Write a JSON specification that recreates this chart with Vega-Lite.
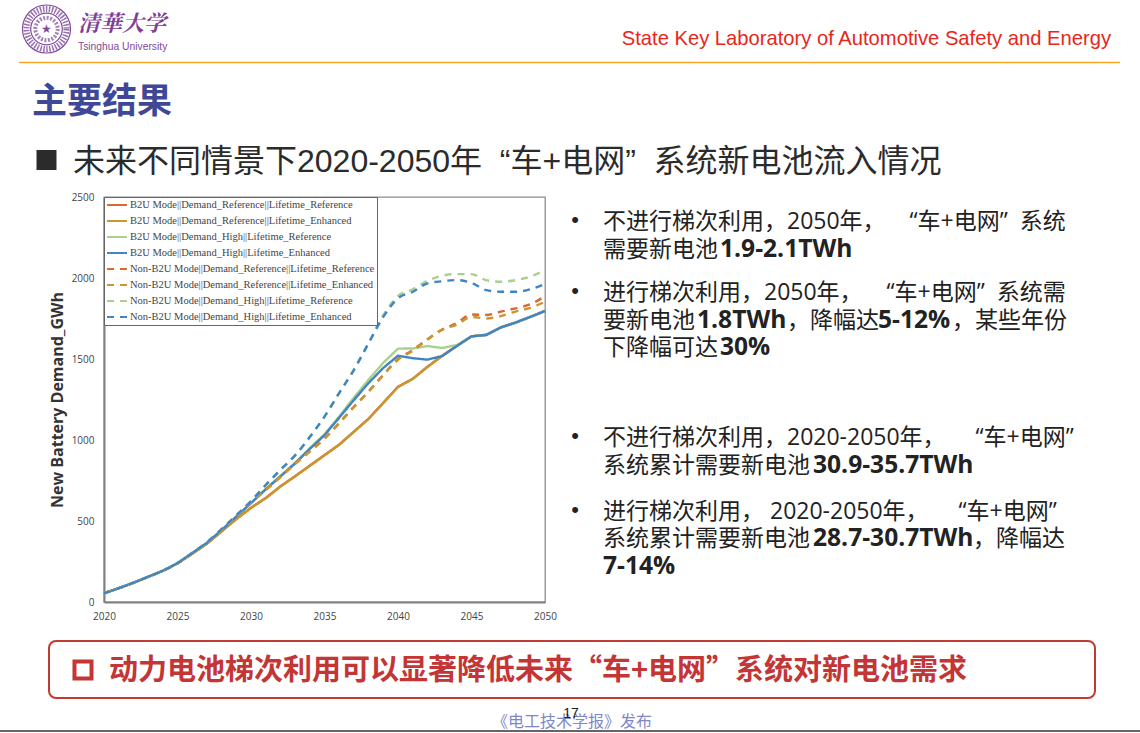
{
"$schema":"https://vega.github.io/schema/vega-lite/v6.json",
"width":441,"height":405,
"autosize":{"type":"none"},
"padding":{"left":104,"top":197,"right":595,"bottom":131},
"background":"white",
"config":{"view":{"stroke":"#8c8c8c","strokeWidth":1.3}},
"datasets":{
"names":[
{"s":"a","series":"B2U Mode||Demand_Reference||Lifetime_Reference"},
{"s":"b","series":"B2U Mode||Demand_Reference||Lifetime_Enhanced"},
{"s":"c","series":"B2U Mode||Demand_High||Lifetime_Reference"},
{"s":"d","series":"B2U Mode||Demand_High||Lifetime_Enhanced"},
{"s":"e","series":"Non-B2U Mode||Demand_Reference||Lifetime_Reference"},
{"s":"f","series":"Non-B2U Mode||Demand_Reference||Lifetime_Enhanced"},
{"s":"g","series":"Non-B2U Mode||Demand_High||Lifetime_Reference"},
{"s":"h","series":"Non-B2U Mode||Demand_High||Lifetime_Enhanced"}
],
"demand":[
{"s":"a","year":2020,"gwh":54},{"s":"a","year":2021,"gwh":85},{"s":"a","year":2022,"gwh":118},{"s":"a","year":2023,"gwh":155},{"s":"a","year":2024,"gwh":192},{"s":"a","year":2025,"gwh":238},{"s":"a","year":2026,"gwh":298},{"s":"a","year":2027,"gwh":360},{"s":"a","year":2028,"gwh":436},{"s":"a","year":2029,"gwh":512},{"s":"a","year":2030,"gwh":582},{"s":"a","year":2031,"gwh":642},{"s":"a","year":2032,"gwh":714},{"s":"a","year":2033,"gwh":777},{"s":"a","year":2034,"gwh":842},{"s":"a","year":2035,"gwh":907},{"s":"a","year":2036,"gwh":972},{"s":"a","year":2037,"gwh":1052},{"s":"a","year":2038,"gwh":1132},{"s":"a","year":2039,"gwh":1230},{"s":"a","year":2040,"gwh":1329},{"s":"a","year":2041,"gwh":1378},{"s":"a","year":2042,"gwh":1452},{"s":"a","year":2043,"gwh":1520},{"s":"a","year":2044,"gwh":1582},{"s":"a","year":2045,"gwh":1640},{"s":"a","year":2046,"gwh":1650},{"s":"a","year":2047,"gwh":1695},{"s":"a","year":2048,"gwh":1725},{"s":"a","year":2049,"gwh":1760},{"s":"a","year":2050,"gwh":1798},
{"s":"b","year":2020,"gwh":54},{"s":"b","year":2021,"gwh":85},{"s":"b","year":2022,"gwh":118},{"s":"b","year":2023,"gwh":155},{"s":"b","year":2024,"gwh":192},{"s":"b","year":2025,"gwh":238},{"s":"b","year":2026,"gwh":298},{"s":"b","year":2027,"gwh":360},{"s":"b","year":2028,"gwh":436},{"s":"b","year":2029,"gwh":512},{"s":"b","year":2030,"gwh":580},{"s":"b","year":2031,"gwh":640},{"s":"b","year":2032,"gwh":712},{"s":"b","year":2033,"gwh":775},{"s":"b","year":2034,"gwh":840},{"s":"b","year":2035,"gwh":905},{"s":"b","year":2036,"gwh":970},{"s":"b","year":2037,"gwh":1050},{"s":"b","year":2038,"gwh":1130},{"s":"b","year":2039,"gwh":1228},{"s":"b","year":2040,"gwh":1327},{"s":"b","year":2041,"gwh":1376},{"s":"b","year":2042,"gwh":1450},{"s":"b","year":2043,"gwh":1518},{"s":"b","year":2044,"gwh":1580},{"s":"b","year":2045,"gwh":1640},{"s":"b","year":2046,"gwh":1648},{"s":"b","year":2047,"gwh":1695},{"s":"b","year":2048,"gwh":1725},{"s":"b","year":2049,"gwh":1760},{"s":"b","year":2050,"gwh":1796},
{"s":"c","year":2020,"gwh":54},{"s":"c","year":2021,"gwh":85},{"s":"c","year":2022,"gwh":119},{"s":"c","year":2023,"gwh":156},{"s":"c","year":2024,"gwh":193},{"s":"c","year":2025,"gwh":240},{"s":"c","year":2026,"gwh":302},{"s":"c","year":2027,"gwh":365},{"s":"c","year":2028,"gwh":444},{"s":"c","year":2029,"gwh":527},{"s":"c","year":2030,"gwh":612},{"s":"c","year":2031,"gwh":698},{"s":"c","year":2032,"gwh":778},{"s":"c","year":2033,"gwh":860},{"s":"c","year":2034,"gwh":950},{"s":"c","year":2035,"gwh":1035},{"s":"c","year":2036,"gwh":1145},{"s":"c","year":2037,"gwh":1262},{"s":"c","year":2038,"gwh":1372},{"s":"c","year":2039,"gwh":1477},{"s":"c","year":2040,"gwh":1564},{"s":"c","year":2041,"gwh":1565},{"s":"c","year":2042,"gwh":1580},{"s":"c","year":2043,"gwh":1568},{"s":"c","year":2044,"gwh":1586},{"s":"c","year":2045,"gwh":1640},{"s":"c","year":2046,"gwh":1648},{"s":"c","year":2047,"gwh":1695},{"s":"c","year":2048,"gwh":1725},{"s":"c","year":2049,"gwh":1760},{"s":"c","year":2050,"gwh":1796},
{"s":"d","year":2020,"gwh":54},{"s":"d","year":2021,"gwh":85},{"s":"d","year":2022,"gwh":119},{"s":"d","year":2023,"gwh":156},{"s":"d","year":2024,"gwh":193},{"s":"d","year":2025,"gwh":240},{"s":"d","year":2026,"gwh":302},{"s":"d","year":2027,"gwh":365},{"s":"d","year":2028,"gwh":444},{"s":"d","year":2029,"gwh":527},{"s":"d","year":2030,"gwh":610},{"s":"d","year":2031,"gwh":695},{"s":"d","year":2032,"gwh":775},{"s":"d","year":2033,"gwh":855},{"s":"d","year":2034,"gwh":945},{"s":"d","year":2035,"gwh":1030},{"s":"d","year":2036,"gwh":1138},{"s":"d","year":2037,"gwh":1247},{"s":"d","year":2038,"gwh":1352},{"s":"d","year":2039,"gwh":1445},{"s":"d","year":2040,"gwh":1520},{"s":"d","year":2041,"gwh":1505},{"s":"d","year":2042,"gwh":1496},{"s":"d","year":2043,"gwh":1518},{"s":"d","year":2044,"gwh":1580},{"s":"d","year":2045,"gwh":1640},{"s":"d","year":2046,"gwh":1648},{"s":"d","year":2047,"gwh":1695},{"s":"d","year":2048,"gwh":1725},{"s":"d","year":2049,"gwh":1760},{"s":"d","year":2050,"gwh":1796},
{"s":"e","year":2020,"gwh":54},{"s":"e","year":2021,"gwh":85},{"s":"e","year":2022,"gwh":118},{"s":"e","year":2023,"gwh":155},{"s":"e","year":2024,"gwh":192},{"s":"e","year":2025,"gwh":238},{"s":"e","year":2026,"gwh":299},{"s":"e","year":2027,"gwh":362},{"s":"e","year":2028,"gwh":440},{"s":"e","year":2029,"gwh":525},{"s":"e","year":2030,"gwh":618},{"s":"e","year":2031,"gwh":692},{"s":"e","year":2032,"gwh":772},{"s":"e","year":2033,"gwh":855},{"s":"e","year":2034,"gwh":930},{"s":"e","year":2035,"gwh":1010},{"s":"e","year":2036,"gwh":1105},{"s":"e","year":2037,"gwh":1205},{"s":"e","year":2038,"gwh":1300},{"s":"e","year":2039,"gwh":1402},{"s":"e","year":2040,"gwh":1500},{"s":"e","year":2041,"gwh":1555},{"s":"e","year":2042,"gwh":1622},{"s":"e","year":2043,"gwh":1682},{"s":"e","year":2044,"gwh":1722},{"s":"e","year":2045,"gwh":1775},{"s":"e","year":2046,"gwh":1772},{"s":"e","year":2047,"gwh":1792},{"s":"e","year":2048,"gwh":1813},{"s":"e","year":2049,"gwh":1838},{"s":"e","year":2050,"gwh":1888},
{"s":"f","year":2020,"gwh":54},{"s":"f","year":2021,"gwh":85},{"s":"f","year":2022,"gwh":118},{"s":"f","year":2023,"gwh":155},{"s":"f","year":2024,"gwh":192},{"s":"f","year":2025,"gwh":238},{"s":"f","year":2026,"gwh":299},{"s":"f","year":2027,"gwh":362},{"s":"f","year":2028,"gwh":440},{"s":"f","year":2029,"gwh":525},{"s":"f","year":2030,"gwh":615},{"s":"f","year":2031,"gwh":690},{"s":"f","year":2032,"gwh":770},{"s":"f","year":2033,"gwh":852},{"s":"f","year":2034,"gwh":928},{"s":"f","year":2035,"gwh":1008},{"s":"f","year":2036,"gwh":1103},{"s":"f","year":2037,"gwh":1203},{"s":"f","year":2038,"gwh":1298},{"s":"f","year":2039,"gwh":1400},{"s":"f","year":2040,"gwh":1495},{"s":"f","year":2041,"gwh":1550},{"s":"f","year":2042,"gwh":1620},{"s":"f","year":2043,"gwh":1680},{"s":"f","year":2044,"gwh":1712},{"s":"f","year":2045,"gwh":1760},{"s":"f","year":2046,"gwh":1750},{"s":"f","year":2047,"gwh":1765},{"s":"f","year":2048,"gwh":1793},{"s":"f","year":2049,"gwh":1816},{"s":"f","year":2050,"gwh":1853},
{"s":"g","year":2020,"gwh":54},{"s":"g","year":2021,"gwh":85},{"s":"g","year":2022,"gwh":119},{"s":"g","year":2023,"gwh":156},{"s":"g","year":2024,"gwh":193},{"s":"g","year":2025,"gwh":240},{"s":"g","year":2026,"gwh":303},{"s":"g","year":2027,"gwh":368},{"s":"g","year":2028,"gwh":450},{"s":"g","year":2029,"gwh":535},{"s":"g","year":2030,"gwh":625},{"s":"g","year":2031,"gwh":722},{"s":"g","year":2032,"gwh":818},{"s":"g","year":2033,"gwh":905},{"s":"g","year":2034,"gwh":1020},{"s":"g","year":2035,"gwh":1146},{"s":"g","year":2036,"gwh":1292},{"s":"g","year":2037,"gwh":1436},{"s":"g","year":2038,"gwh":1602},{"s":"g","year":2039,"gwh":1770},{"s":"g","year":2040,"gwh":1889},{"s":"g","year":2041,"gwh":1930},{"s":"g","year":2042,"gwh":1983},{"s":"g","year":2043,"gwh":2014},{"s":"g","year":2044,"gwh":2024},{"s":"g","year":2045,"gwh":2024},{"s":"g","year":2046,"gwh":1987},{"s":"g","year":2047,"gwh":1977},{"s":"g","year":2048,"gwh":1987},{"s":"g","year":2049,"gwh":2008},{"s":"g","year":2050,"gwh":2049},
{"s":"h","year":2020,"gwh":54},{"s":"h","year":2021,"gwh":85},{"s":"h","year":2022,"gwh":119},{"s":"h","year":2023,"gwh":156},{"s":"h","year":2024,"gwh":193},{"s":"h","year":2025,"gwh":240},{"s":"h","year":2026,"gwh":303},{"s":"h","year":2027,"gwh":368},{"s":"h","year":2028,"gwh":450},{"s":"h","year":2029,"gwh":535},{"s":"h","year":2030,"gwh":622},{"s":"h","year":2031,"gwh":722},{"s":"h","year":2032,"gwh":815},{"s":"h","year":2033,"gwh":905},{"s":"h","year":2034,"gwh":1018},{"s":"h","year":2035,"gwh":1144},{"s":"h","year":2036,"gwh":1290},{"s":"h","year":2037,"gwh":1432},{"s":"h","year":2038,"gwh":1597},{"s":"h","year":2039,"gwh":1760},{"s":"h","year":2040,"gwh":1875},{"s":"h","year":2041,"gwh":1915},{"s":"h","year":2042,"gwh":1967},{"s":"h","year":2043,"gwh":1980},{"s":"h","year":2044,"gwh":1987},{"s":"h","year":2045,"gwh":1970},{"s":"h","year":2046,"gwh":1925},{"s":"h","year":2047,"gwh":1915},{"s":"h","year":2048,"gwh":1915},{"s":"h","year":2049,"gwh":1930},{"s":"h","year":2050,"gwh":1963}
]
},
"layer":[
{
"encoding":{
"x":{"field":"col","type":"quantitative","axis":null,"scale":{"zero":false,"nice":false,
"domain":[0,1,2,3,4,5,6,7,8,9,10,11,12,13,14,15,16,17,18,19,20,21,22,23],
"range":[-104,-85,-72,-57.5,-55,-31,-26,-21,5,388,467,471,499,593,616,683,709,774,848,869,991,1007,1016,1036]}},
"y":{"field":"row","type":"quantitative","axis":null,"scale":{"zero":false,"nice":false,
"domain":[0,1,2,3,4,5,6,7,8,9,10,11,12,13,14,15,16,17,18,19,20,21,22],
"range":[-173,-168,-159,-150,-134.5,-97,-37,23,51,94,122,149,239,267,313,340,368,444,473,501,517,525,534]}}
},
"layer":[
{"data":{"values":[{"col":1,"col2":22,"row":4}]},"mark":{"type":"rule","color":"#F5A623","strokeWidth":1.5},"encoding":{"x2":{"field":"col2"}}},
{"data":{"values":[{"col":0,"col2":23,"row":22}]},"mark":{"type":"rule","color":"#666666","strokeWidth":2},"encoding":{"x2":{"field":"col2"}}},
{"data":{"values":[{"col":4,"col2":20,"row":17,"row2":19}]},"mark":{"type":"rect","fill":"white","stroke":"#C23B33","strokeWidth":2,"cornerRadius":7},"encoding":{"x2":{"field":"col2"},"y2":{"field":"row2"}}},
{"data":{"values":[{"col":3,"row":6}]},"mark":{"type":"point","shape":"square","filled":true,"color":"#2b2b2b","size":400,"opacity":1}},
{"data":{"values":[{"col":7,"row":18}]},"mark":{"type":"point","shape":"square","filled":false,"stroke":"#C43535","strokeWidth":4,"size":290,"opacity":1}},
{"data":{"values":[{"col":3,"row":1}]},"mark":{"type":"point","shape":"circle","filled":false,"stroke":"#7F4A9A","strokeWidth":1.2,"size":2304,"opacity":1}},
{"data":{"values":[{"col":3,"row":1}]},"mark":{"type":"point","shape":"circle","filled":false,"stroke":"#9A70B2","strokeWidth":6,"strokeDash":[1.5,1.5],"size":1600,"opacity":1}},
{"data":{"values":[{"col":3,"row":1}]},"mark":{"type":"point","shape":"circle","filled":false,"stroke":"#7F4A9A","strokeWidth":1.2,"size":1000,"opacity":1}},
{"data":{"values":[{"col":3,"row":1}]},"mark":{"type":"point","shape":"circle","filled":false,"stroke":"#A583BC","strokeWidth":4,"strokeDash":[2,1.5],"size":500,"opacity":1}},
{"data":{"values":[{"col":3,"row":1,"text":"★"}]},"mark":{"type":"text","fontSize":12,"color":"#7F4A9A","baseline":"middle","align":"center"},"encoding":{"text":{"field":"text"}}},
{"data":{"values":[{"col":6,"row":0,"text":"清華大学"}]},"mark":{"type":"text","font":"Noto Serif CJK SC, Noto Sans CJK SC","fontSize":22,"fontWeight":"bold","fontStyle":"italic","color":"#7F3F98","baseline":"middle","align":"left"},"encoding":{"text":{"field":"text"}}},
{"data":{"values":[{"col":6,"row":3,"text":"Tsinghua University"}]},"mark":{"type":"text","font":"Liberation Sans","fontSize":10.3,"color":"#7F4A9A","baseline":"middle","align":"left"},"encoding":{"text":{"field":"text"}}},
{"data":{"values":[{"col":21,"row":2,"text":"State Key Laboratory of Automotive Safety and Energy"}]},"mark":{"type":"text","font":"Liberation Sans","fontSize":20.2,"color":"#E8261C","baseline":"middle","align":"right","dy":1},"encoding":{"text":{"field":"text"}}},
{"data":{"values":[{"col":2,"row":5,"text":"主要结果"}]},"mark":{"type":"text","font":"Noto Sans CJK SC","fontSize":35,"fontWeight":"bold","color":"#3F4797","baseline":"middle","align":"left","dy":2},"encoding":{"text":{"field":"text"}}},
{"data":{"values":[{"col":5,"row":6,"text":"未来不同情景下2020-2050年\u00a0\u00a0“车+电网”\u00a0\u00a0系统新电池流入情况"}]},"mark":{"type":"text","font":"Liberation Sans, Noto Sans CJK SC","fontSize":32,"color":"#2b2b2b","baseline":"middle","align":"left","dy":2},"encoding":{"text":{"field":"text"}}},
{"data":{"values":[{"col":11,"row":7,"text":"•"},{"col":11,"row":9,"text":"•"},{"col":11,"row":12,"text":"•"},{"col":11,"row":14,"text":"•"}]},"mark":{"type":"text","font":"Liberation Sans","fontSize":22,"color":"#222222","baseline":"middle","align":"center"},"encoding":{"text":{"field":"text"}}},
{"data":{"values":[
{"col":12,"row":7,"text":"不进行梯次利用，2050年，\u00a0\u00a0\u00a0\u00a0“车+电网”\u00a0\u00a0系统"},
{"col":12,"row":8,"text":"需要新电池"},
{"col":12,"row":9,"text":"进行梯次利用，2050年，\u00a0\u00a0\u00a0\u00a0“车+电网”\u00a0\u00a0系统需"},
{"col":12,"row":10,"text":"要新电池"},
{"col":15,"row":10,"text":"，降幅达"},
{"col":18,"row":10,"text":"，某些年份"},
{"col":12,"row":11,"text":"下降幅可达"},
{"col":12,"row":12,"text":"不进行梯次利用，2020-2050年，\u00a0\u00a0\u00a0\u00a0\u00a0“车+电网”"},
{"col":12,"row":13,"text":"系统累计需要新电池"},
{"col":12,"row":14,"text":"进行梯次利用，\u00a02020-2050年，\u00a0\u00a0\u00a0\u00a0\u00a0“车+电网”"},
{"col":12,"row":15,"text":"系统累计需要新电池"},
{"col":19,"row":15,"text":"，降幅达"}
]},"mark":{"type":"text","font":"Open Sans, Noto Sans CJK SC","fontSize":23,"color":"#222222","baseline":"middle","align":"left","dy":1.5},"encoding":{"text":{"field":"text"}}},
{"data":{"values":[
{"col":14,"row":8,"text":"1.9-2.1TWh"},
{"col":13,"row":10,"text":"1.8TWh"},
{"col":17,"row":10,"text":"5-12%"},
{"col":14,"row":11,"text":"30%"},
{"col":16,"row":13,"text":"30.9-35.7TWh"},
{"col":16,"row":15,"text":"28.7-30.7TWh"},
{"col":12,"row":16,"text":"7-14%"}
]},"mark":{"type":"text","font":"Open Sans, Noto Sans CJK SC","fontSize":24.6,"fontWeight":"bold","color":"#222222","baseline":"middle","align":"left","dy":1.5},"encoding":{"text":{"field":"text"}}},
{"data":{"values":[{"col":8,"row":18,"text":"动力电池梯次利用可以显著降低未来“车+电网”系统对新电池需求"}]},"mark":{"type":"text","font":"Noto Sans CJK SC","fontSize":29,"fontWeight":"bold","color":"#C43535","baseline":"middle","align":"left","dy":1},"encoding":{"text":{"field":"text"}}},
{"data":{"values":[{"col":9,"row":21,"text":"《电工技术学报》发布"}]},"mark":{"type":"text","font":"Noto Sans CJK SC","fontSize":16,"color":"#7F87C9","baseline":"middle","align":"left"},"encoding":{"text":{"field":"text"}}},
{"data":{"values":[{"col":10,"row":20,"text":"17"}]},"mark":{"type":"text","font":"Liberation Sans","fontSize":14,"color":"#222222","baseline":"middle","align":"center"},"encoding":{"text":{"field":"text"}}}
]
},
{
"data":{"name":"demand"},
"transform":[{"lookup":"s","from":{"data":{"name":"names"},"key":"s","fields":["series"]}}],
"encoding":{
"x":{"field":"year","type":"quantitative","scale":{"domain":[2020,2050],"nice":false,"zero":false},
"axis":{"values":[2020,2025,2030,2035,2040,2045,2050],"format":"d","labelFlush":false,"title":null,"grid":false,"ticks":false,"domainColor":"#808080","domainWidth":2,"labelFont":"Open Sans","labelFontSize":10,"labelColor":"#444444","labelPadding":9}},
"y":{"field":"gwh","type":"quantitative","scale":{"domain":[0,2500],"nice":false},
"axis":{"values":[0,500,1000,1500,2000,2500],"format":"d","labelFlush":false,"title":"New Battery Demand_GWh","titleFont":"Open Sans","titleFontSize":16,"titleFontWeight":"bold","titleColor":"#333333","titlePadding":6,"grid":false,"ticks":false,"domainColor":"#808080","domainWidth":2,"labelFont":"Open Sans","labelFontSize":10,"labelColor":"#444444","labelPadding":10}},
"color":{"field":"series","type":"nominal","sort":null,
"scale":{"domain":["B2U Mode||Demand_Reference||Lifetime_Reference","B2U Mode||Demand_Reference||Lifetime_Enhanced","B2U Mode||Demand_High||Lifetime_Reference","B2U Mode||Demand_High||Lifetime_Enhanced","Non-B2U Mode||Demand_Reference||Lifetime_Reference","Non-B2U Mode||Demand_Reference||Lifetime_Enhanced","Non-B2U Mode||Demand_High||Lifetime_Reference","Non-B2U Mode||Demand_High||Lifetime_Enhanced"],
"range":["#D9692E","#C9962F","#A9D18E","#3E85C6","#D9692E","#C9962F","#A9D18E","#3E85C6"]},
"legend":{"title":null,"orient":"top-left","offset":0,"fillColor":"white","strokeColor":"#666666","padding":2,"symbolType":"stroke","symbolSize":400,"symbolStrokeWidth":2,"labelFont":"Liberation Serif","labelFontSize":10.5,"labelColor":"#444444","labelLimit":300,"labelOffset":2,"rowPadding":4,"clipHeight":12}},
"strokeDash":{"field":"series","type":"nominal","sort":null,
"scale":{"domain":["B2U Mode||Demand_Reference||Lifetime_Reference","B2U Mode||Demand_Reference||Lifetime_Enhanced","B2U Mode||Demand_High||Lifetime_Reference","B2U Mode||Demand_High||Lifetime_Enhanced","Non-B2U Mode||Demand_Reference||Lifetime_Reference","Non-B2U Mode||Demand_Reference||Lifetime_Enhanced","Non-B2U Mode||Demand_High||Lifetime_Reference","Non-B2U Mode||Demand_High||Lifetime_Enhanced"],
"range":[[1,0],[1,0],[1,0],[1,0],[7,6],[7,6],[7,6],[7,6]]},
"legend":{"title":null}}
},
"layer":[
{"transform":[{"filter":"indexof(['a','b','c','d'],datum.s)>=0"}],"mark":{"type":"line","strokeWidth":2.4,"interpolate":"linear"}},
{"transform":[{"filter":"indexof(['e','f','g','h'],datum.s)>=0"}],"mark":{"type":"line","strokeWidth":2.4,"interpolate":"monotone"}}
]
}
],
"resolve":{"scale":{"x":"independent","y":"independent"}}
}
